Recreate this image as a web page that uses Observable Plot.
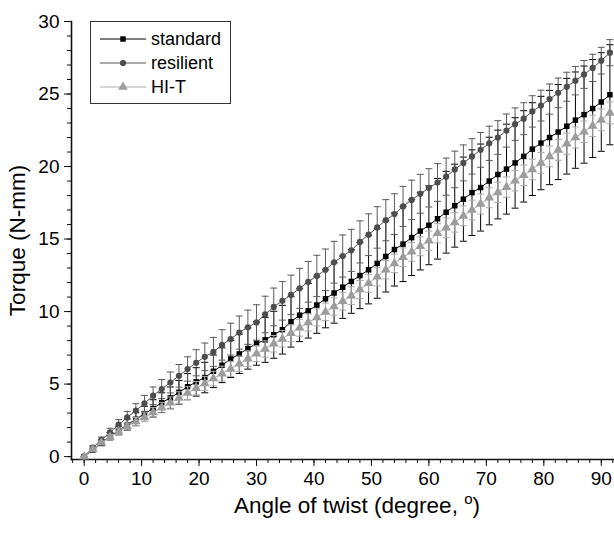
<!DOCTYPE html>
<html><head><meta charset="utf-8">
<script src="https://cdn.jsdelivr.net/npm/d3@7"></script>
<script src="https://cdn.jsdelivr.net/npm/@observablehq/plot@0.6"></script>
<style>
body{margin:0;background:#fff;font-family:Arial,"Liberation Sans",sans-serif;}
#wrap{position:relative;width:614px;height:533px;overflow:hidden;}
#legend{position:absolute;left:90px;top:21px;}
</style></head><body><div id="wrap"></div>
<script>
const angle = [0,1.5,3,4.5,6,7.5,9,10.5,12,13.5,15,16.5,18,19.5,21,22.5,24,25.5,27,28.5,30,31.5,33,34.5,36,37.5,39,40.5,42,43.5,45,46.5,48,49.5,51,52.5,54,55.5,57,58.5,60,61.5,63,64.5,66,67.5,69,70.5,72,73.5,75,76.5,78,79.5,81,82.5,84,85.5,87,88.5,90,91.5];
const standard = [0,0.45,0.95,1.4,1.8,2.2,2.58,2.95,3.32,3.72,4.05,4.43,4.82,5.15,5.45,5.88,6.3,6.73,7.08,7.45,7.8,8.05,8.4,8.75,9.3,9.75,10.05,10.45,10.88,11.28,11.68,12.08,12.48,12.88,13.32,13.8,14.28,14.65,15.1,15.55,15.95,16.4,16.85,17.3,17.75,18.2,18.55,19.0,19.45,19.82,20.25,20.7,21.2,21.62,22.0,22.38,22.78,23.2,23.58,24.0,24.45,24.95];
const resilient = [0,0.62,1.15,1.67,2.2,2.7,3.17,3.67,4.2,4.66,5.11,5.57,6.04,6.47,6.88,7.22,7.7,8.1,8.55,8.92,9.25,9.8,10.32,10.74,11.15,11.6,12.05,12.46,12.88,13.4,13.83,14.22,14.8,15.3,15.8,16.3,16.72,17.25,17.7,18.12,18.53,18.9,19.3,19.8,20.25,20.7,21.15,21.6,22.0,22.48,22.92,23.3,23.8,24.2,24.65,25.08,25.5,25.92,26.35,26.8,27.3,27.85];
const hiT = [0,0.5,0.95,1.35,1.72,2.08,2.42,2.72,3.05,3.38,3.72,4.05,4.38,4.72,5.05,5.38,5.72,6.05,6.4,6.75,7.1,7.42,7.78,8.12,8.5,8.88,9.25,9.6,9.98,10.35,10.72,11.1,11.52,11.95,12.4,12.88,13.32,13.75,14.12,14.5,14.88,15.4,15.78,16.15,16.6,17.0,17.42,17.85,18.22,18.58,19.02,19.4,19.8,20.25,20.7,21.15,21.58,22.0,22.4,22.8,23.22,23.7];
const sdStandard = [0,0.1,0.2,0.25,0.3,0.38,0.45,0.52,0.6,0.68,0.75,0.82,0.9,0.98,1.05,1.12,1.2,1.28,1.35,1.42,1.5,1.55,1.62,1.68,1.75,1.82,1.88,1.95,2.0,2.08,2.15,2.2,2.28,2.35,2.4,2.45,2.52,2.58,2.62,2.68,2.72,2.78,2.82,2.86,2.9,2.95,3.0,3.02,3.06,3.1,3.12,3.15,3.2,3.22,3.25,3.28,3.3,3.32,3.35,3.38,3.4,3.45];
const sdResilient = [0,0.12,0.2,0.28,0.35,0.42,0.48,0.55,0.6,0.66,0.72,0.78,0.84,0.9,0.95,1.0,1.05,1.1,1.14,1.18,1.22,1.26,1.3,1.33,1.36,1.38,1.4,1.42,1.43,1.44,1.45,1.45,1.45,1.44,1.43,1.42,1.4,1.38,1.36,1.34,1.32,1.3,1.28,1.26,1.24,1.22,1.2,1.18,1.16,1.14,1.12,1.1,1.08,1.06,1.04,1.02,1.0,0.98,0.96,0.94,0.92,0.9];
const sdHiT = [0,0.08,0.12,0.16,0.2,0.24,0.27,0.3,0.33,0.36,0.39,0.42,0.44,0.46,0.48,0.5,0.51,0.52,0.53,0.54,0.55,0.56,0.57,0.57,0.58,0.58,0.59,0.59,0.6,0.6,0.61,0.61,0.62,0.62,0.63,0.63,0.64,0.64,0.65,0.65,0.66,0.66,0.67,0.67,0.68,0.68,0.69,0.69,0.7,0.7,0.7,0.71,0.71,0.72,0.72,0.72,0.73,0.73,0.74,0.74,0.75,0.75];

const seriesNames = ["standard", "resilient", "HI-T"];
const xTicks = [0,10,20,30,40,50,60,70,80,90];
const xMinorTicks = [-2,0,2,4,6,8,10,12,14,16,18,20,22,24,26,28,30,32,34,36,38,40,42,44,46,48,50,52,54,56,58,60,62,64,66,68,70,72,74,76,78,80,82,84,86,88,90,92];
const yTicks = [0,5,10,15,20,25,30];
const yMinorTicks = [0,1,2,3,4,5,6,7,8,9,10,11,12,13,14,15,16,17,18,19,20,21,22,23,24,25,26,27,28,29,30];
const xDomain = [-2.2, 92.3];
const yDomain = [-0.2, 30];
const xTitle = "Angle of twist (degree, °)";
const yTitle = "Torque (N-mm)";

const styles = [
  {name: seriesNames[0], ys: standard, sd: sdStandard, symbol: "square", r: 3.1, fill: "#000", line: "#000", bar: "#000"},
  {name: seriesNames[1], ys: resilient, sd: sdResilient, symbol: "circle", r: 3.1, fill: "#4d4d4d", line: "#555", bar: "#5c5c5c"},
  {name: seriesNames[2], ys: hiT, sd: sdHiT, symbol: "triangle", r: 3.6, fill: "#9c9c9c", line: "#aaa", bar: "#ababab"}
];

const cap = {draw(ctx) { ctx.moveTo(-3.5, 0); ctx.lineTo(3.5, 0); }};

const marks = [];
for (const s of styles) {
  const rows = angle.map((x, i) => ({x, y: s.ys[i], lo: s.ys[i] - s.sd[i], hi: s.ys[i] + s.sd[i]}));
  marks.push(
    Plot.ruleX(rows, {x: "x", y1: "lo", y2: "hi", stroke: s.bar, strokeWidth: 1}),
    Plot.dot(rows, {x: "x", y: "hi", symbol: cap, stroke: s.bar, fill: "none", strokeWidth: 1}),
    Plot.dot(rows, {x: "x", y: "lo", symbol: cap, stroke: s.bar, fill: "none", strokeWidth: 1}),
    Plot.line(rows, {x: "x", y: "y", stroke: s.line, strokeWidth: 1}),
    Plot.dot(rows, {x: "x", y: "y", symbol: s.symbol, r: s.r, fill: s.fill, stroke: "none"})
  );
}

const chart = Plot.plot({
  width: 614, height: 533,
  marginLeft: 71, marginRight: 0, marginTop: 21, marginBottom: 74,
  x: {domain: xDomain},
  y: {domain: yDomain},
  style: {fontFamily: "Arial, 'Liberation Sans', sans-serif", color: "#000", background: "#fff", overflow: "visible"},
  marks: [
    Plot.axisX(xMinorTicks, {anchor: "bottom", tickSize: 4, text: null, label: null, stroke: "#111"}),
    Plot.axisX(xTicks, {anchor: "bottom", tickSize: 7, tickPadding: 5, fontSize: 19, label: null, stroke: "#111"}),
    Plot.axisY(yMinorTicks, {anchor: "left", tickSize: 4, text: null, label: null, stroke: "#111"}),
    Plot.axisY(yTicks, {anchor: "left", tickSize: 7, tickPadding: 5, fontSize: 19, label: null, stroke: "#111"}),
    Plot.frame({anchor: "bottom", stroke: "#111", strokeWidth: 1.6}),
    Plot.frame({anchor: "left", stroke: "#111", strokeWidth: 1.6}),
    ...marks,
    Plot.text([xTitle], {frameAnchor: "bottom", dx: 14, dy: 46, fontSize: 22.5, lineAnchor: "middle", textAnchor: "middle", fill: "#000"}),
    Plot.text([yTitle], {frameAnchor: "left", dx: -54, rotate: -90, fontSize: 22.5, lineAnchor: "middle", textAnchor: "middle", fill: "#000"})
  ]
});

// superscript the degree "o" in the x title
d3.select(chart).selectAll("text").each(function() {
  if (this.textContent === xTitle) {
    const t = d3.select(this);
    t.text(null);
    t.append("tspan").text("Angle of twist (degree, ");
    t.append("tspan").attr("dy", -9).attr("font-size", 15).text("o");
    t.append("tspan").attr("dy", 9).text(")");
  }
});

const wrap = document.getElementById("wrap");
wrap.appendChild(chart);

// legend
const lg = d3.select(wrap).append("svg").attr("id", "legend").attr("width", 142).attr("height", 85);
lg.append("rect").attr("x", 0.5).attr("y", 0.5).attr("width", 140).attr("height", 82).attr("fill", "#fff").attr("stroke", "#333").attr("stroke-width", 1);
styles.forEach((s, i) => {
  const cy = 18 + i * 24;
  lg.append("line").attr("x1", 10).attr("x2", 56).attr("y1", cy).attr("y2", cy).attr("stroke", s.line).attr("stroke-width", 1);
  const sym = {square: d3.symbolSquare, circle: d3.symbolCircle, triangle: d3.symbolTriangle}[s.symbol];
  lg.append("path").attr("d", d3.symbol(sym, Math.PI * s.r * s.r)()).attr("transform", `translate(33,${cy})`).attr("fill", s.fill);
  lg.append("text").attr("x", 61).attr("y", cy).attr("dy", "0.35em").attr("font-size", 18).attr("font-family", "Arial, 'Liberation Sans', sans-serif").attr("fill", "#000").text(s.name);
});
</script>
</body></html>
